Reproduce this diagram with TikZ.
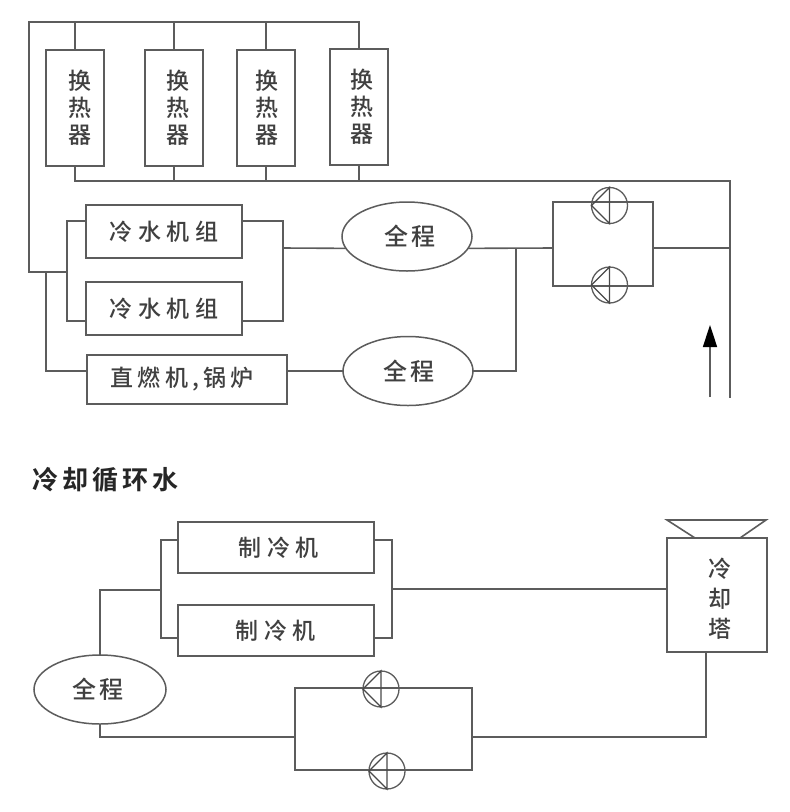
\documentclass[tikz,border=0pt]{standalone}
\usepackage{fontspec}
\usetikzlibrary{shapes.geometric,arrows.meta}
\newfontfamily\cjk{Noto Sans CJK SC Medium}
\newfontfamily\cjkw[LetterSpace=24]{Noto Sans CJK SC Medium}
\newfontfamily\cjkm[LetterSpace=18]{Noto Sans CJK SC Medium}
\newfontfamily\cjkb[LetterSpace=16]{Noto Sans CJK SC Bold}
\definecolor{ink}{gray}{0.36}
\definecolor{txt}{gray}{0.25}
\newcommand{\vtxt}[5]{\hspace*{#5}\vbox{\baselineskip=#4\lineskiplimit=-20pt\hbox{#1}\hbox{#2}\hbox{#3}}}
\tikzset{
  pipe/.style={draw=ink,line width=1.6pt,line join=miter},
  box/.style={rectangle,draw=ink,line width=1.6pt,inner sep=0pt,outer sep=0pt,text=txt,font=\cjkw\fontsize{23}{26}\selectfont},
  hxbox/.style={box,minimum width=58pt,minimum height=116pt,font=\cjk\fontsize{23}{27}\selectfont},
  chbox/.style={box,minimum width=156pt,minimum height=53pt},
  ell/.style={ellipse,draw=ink,line width=1.5pt,inner sep=0pt,outer sep=0pt,minimum width=130pt,minimum height=69pt,text=txt,font=\cjk\fontsize{24}{28}\selectfont},
  pumpc/.style={circle,draw=ink,line width=1.3pt,inner sep=0pt,outer sep=0pt,minimum size=36pt},
  pumpt/.style={draw=ink!80!black,line width=1.2pt,line join=miter}
}
\newcommand{\pump}[3]{\node[pumpc] (#1) at (#2,#3) {};\draw[pumpt] (#1.west) -- (#1.north) -- (#1.south) -- cycle;}
\begin{document}
\begin{tikzpicture}[x=1pt,y=-1pt]
\useasboundingbox (0,0) rectangle (790,812);
\fill[white] (0,0) rectangle (790,812);
% upper circuit: heat exchangers
\node[hxbox] (hx1) at (75,108) {\vtxt{换}{热}{器}{27pt}{10pt}};
\node[hxbox] (hx2) at (174,108) {\vtxt{换}{热}{器}{27pt}{8pt}};
\node[hxbox] (hx3) at (266,108) {\vtxt{换}{热}{器}{27pt}{2pt}};
\node[hxbox] (hx4) at (359,107) {\vtxt{换}{热}{器}{27pt}{6pt}};
\coordinate (tl) at (29,22);
\coordinate (tr) at (359,22);
\coordinate (ml) at (29,272);
\coordinate (bus1) at (67,272);
\coordinate (brn) at (46,272);
\coordinate (hb) at (75,181);
\coordinate (hbr) at (730,181);
\coordinate (riser) at (730,398);
\draw[pipe] (hx4.north) -- (tr) -- (tl) -- (ml) -- (bus1);
\draw[pipe] (hx1.north) -- (hx1.north |- tl);
\draw[pipe] (hx2.north) -- (hx2.north |- tl);
\draw[pipe] (hx3.north) -- (hx3.north |- tl);
\draw[pipe] (hx1.south) -- (hb) -- (hbr) -- (riser);
\draw[pipe] (hx2.south) -- (hx2.south |- hb);
\draw[pipe] (hx3.south) -- (hx3.south |- hb);
\draw[pipe] (hx4.south) -- (hx4.south |- hb);
% chillers
\node[chbox] (ch1) at (164,231.5) {冷水机组};
\node[chbox] (ch2) at (164,308.5) {冷水机组};
\node[box,minimum width=200pt,minimum height=49pt] (boil) at (187,379.5) {\hspace*{-10pt}\cjkm\fontsize{23}{26}\selectfont 直燃机,锅炉};
\coordinate (c1w) at (86,221);
\coordinate (c1wb) at (67,221);
\coordinate (c2w) at (86,321);
\coordinate (c2wb) at (67,321);
\coordinate (c1e) at (242,221);
\coordinate (c1eb) at (283,221);
\coordinate (c2e) at (242,321);
\coordinate (c2eb) at (283,321);
\coordinate (cmid) at (283,248);
\draw[pipe] (c1w) -- (c1wb) -- (c2wb) -- (c2w);
\draw[pipe] (c1e) -- (c1eb) -- (c2eb) -- (c2e);
\draw[pipe] (brn) |- (boil.west |- 0,371);
% ellipses
\node[ell] (e1) at (407,236.5) {\hspace*{6pt}全\hspace{4pt}程};
\node[ell] (e2) at (408,371) {\hspace*{2pt}全\hspace{4pt}程};
\draw[pipe] (cmid) -- (e1.191);
\coordinate (jn) at (516,248);
\coordinate (l1w) at (553,248);
\coordinate (l1e) at (653,248);
\draw[pipe] (e1.349) -- (l1w);
\draw[pipe] (boil.east |- e2.west) -- (e2.west);
\draw[pipe] (e2.east) -- (jn |- e2.east) -- (jn);
% upper pump loop
\coordinate (l1nw) at (553,202);
\coordinate (l1se) at (653,286);
\draw[pipe] (l1nw) rectangle (l1se);
\pump{p1}{609.5}{205.5}
\pump{p2}{609.5}{285}
\draw[pipe] (l1e) -- (l1e -| hbr);
% flow arrow
\coordinate (as) at (710,397);
\coordinate (at) at (710,325);
\draw[draw=ink,line width=1.6pt,-{Triangle[length=22pt,width=14pt,fill=black,color=black]}] (as) -- (at);
% title
\node[anchor=west,inner sep=0pt,text=black!85,font=\cjkb\fontsize{26}{28}\selectfont] (title) at (32,480) {冷却循环水};
% lower circuit
\node[box,minimum width=196pt,minimum height=51pt] (z1) at (276,547.5) {\hspace*{6pt}制冷机};
\node[box,minimum width=196pt,minimum height=51pt] (z2) at (276,630.5) {制冷机};
\node[box,minimum width=100pt,minimum height=114pt,font=\cjk\fontsize{23}{27}\selectfont] (tw) at (717,595) {\vbox{\kern7pt\hbox{\vtxt{冷}{却}{塔}{30pt}{6pt}}}};
\coordinate (fa) at (667,520);
\coordinate (fb) at (766,520);
\coordinate (fc) at (740,538);
\coordinate (fd) at (695,538);
\draw[pipe] (fd) -- (fa) -- (fb) -- (fc);
\coordinate (z1w) at (178,540);
\coordinate (z1wb) at (161,540);
\coordinate (z2w) at (178,638);
\coordinate (z2wb) at (161,638);
\coordinate (z1e) at (374,540);
\coordinate (z1eb) at (392,540);
\coordinate (z2e) at (374,638);
\coordinate (z2eb) at (392,638);
\coordinate (zr) at (392,589);
\coordinate (zl) at (161,590);
\draw[pipe] (z1w) -- (z1wb) -- (z2wb) -- (z2w);
\draw[pipe] (z1e) -- (z1eb) -- (z2eb) -- (z2e);
\draw[pipe] (zr) -- (tw.west |- zr);
\node[ell,minimum width=132pt] (e3) at (100,689.5) {\hspace*{-4pt}全\hspace{4pt}程};
\draw[pipe] (e3.north) |- (zl);
\coordinate (l2w) at (295,737);
\coordinate (l2e) at (472,737);
\coordinate (l2nw) at (295,688);
\coordinate (l2se) at (472,770);
\draw[pipe] (e3.south) |- (l2w);
\draw[pipe] (l2nw) rectangle (l2se);
\pump{p3}{381}{689}
\pump{p4}{387}{771}
\coordinate (tb) at (706,652);
\draw[pipe] (l2e) -| (tb);
\end{tikzpicture}
\end{document}
